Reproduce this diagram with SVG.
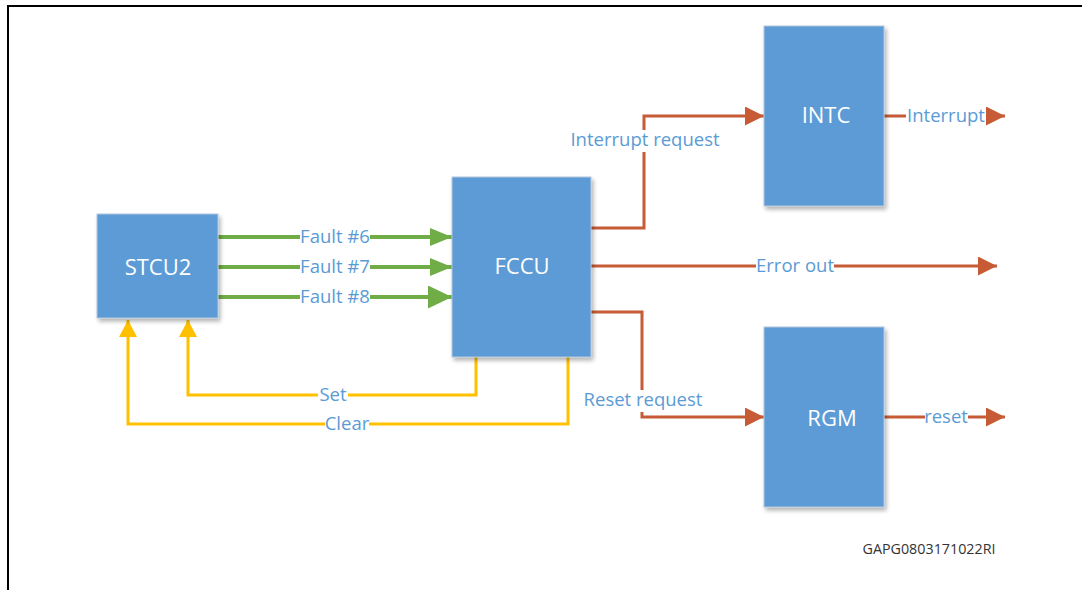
<svg xmlns="http://www.w3.org/2000/svg" width="1082" height="590" viewBox="0 0 1082 590">
  <defs>
    <filter id="shadow" x="-10%" y="-10%" width="130%" height="130%">
      <feGaussianBlur in="SourceAlpha" stdDeviation="2"/>
      <feOffset dx="2" dy="3" result="b"/>
      <feComponentTransfer><feFuncA type="linear" slope="0.3"/></feComponentTransfer>
      <feMerge><feMergeNode/><feMergeNode in="SourceGraphic"/></feMerge>
    </filter>
    <marker id="ah-green" markerUnits="userSpaceOnUse" markerWidth="22" markerHeight="18" refX="22" refY="9" orient="auto">
      <path d="M0,0 L22,9 L0,18 Z" fill="#70AD47"/>
    </marker>
    <marker id="ah-green-lg" markerUnits="userSpaceOnUse" markerWidth="24" markerHeight="23" refX="24" refY="11.5" orient="auto">
      <path d="M0,0 L24,11.5 L0,23 Z" fill="#70AD47"/>
    </marker>
    <marker id="ah-orange" markerUnits="userSpaceOnUse" markerWidth="19" markerHeight="19" refX="19" refY="9.5" orient="auto">
      <path d="M0,0 L19,9.5 L0,19 Z" fill="#C65B36"/>
    </marker>
    <marker id="ah-yellow" markerUnits="userSpaceOnUse" markerWidth="17" markerHeight="18" refX="17" refY="9" orient="auto">
      <path d="M0,0 L17,9 L0,18 Z" fill="#FFC000"/>
    </marker>
  </defs>
  <style>
    .box { fill: #5B9BD5; stroke: #B4C7DC; stroke-width: 1; filter: url(#shadow); }
    .name { font-family: "Open Sans", "Liberation Sans", sans-serif; font-size: 22px; fill: #FFFFFF; text-anchor: middle; }
    .lbl { font-family: "Open Sans", "Liberation Sans", sans-serif; font-size: 18.5px; fill: #5B9BD5; text-anchor: middle; }
    .gap { fill: #FFFFFF; }
    .green { fill: none; stroke: #70AD47; stroke-width: 4; }
    .orange { fill: none; stroke: #C65B36; stroke-width: 3; }
    .yellow { fill: none; stroke: #FFC000; stroke-width: 3; }
    .frame { fill: none; stroke: #000000; stroke-width: 2; }
    .ref { font-family: "Open Sans", "Liberation Sans", sans-serif; font-size: 14.3px; fill: #333333; text-anchor: middle; }
  </style>

  <rect width="1082" height="590" fill="#FFFFFF"/>
  <path class="frame" d="M8,592 L8,6 L1084,6"/>

  <!-- signal lines -->
  <g id="connectors">
    <path class="green" d="M217,237 L452,237" marker-end="url(#ah-green)"/>
    <path class="green" d="M217,267 L452,267" marker-end="url(#ah-green)"/>
    <path class="green" d="M217,297 L452,297" marker-end="url(#ah-green-lg)"/>
    <path class="yellow" d="M476,357 L476,395 L188,395 L188,320" marker-end="url(#ah-yellow)"/>
    <path class="yellow" d="M568,357 L568,424 L128,424 L128,320" marker-end="url(#ah-yellow)"/>
    <path class="orange" d="M591,228 L644,228 L644,116 L764,116" marker-end="url(#ah-orange)"/>
    <path class="orange" d="M591,266 L997,266" marker-end="url(#ah-orange)"/>
    <path class="orange" d="M591,312 L642,312 L642,417 L764,417" marker-end="url(#ah-orange)"/>
    <path class="orange" d="M884,116 L1005,116" marker-end="url(#ah-orange)"/>
    <path class="orange" d="M884,417 L1005,417" marker-end="url(#ah-orange)"/>

    <!-- labels -->
    <rect class="gap" x="300" y="228" width="70" height="18"/>
    <text class="lbl" x="335" y="243">Fault #6</text>
    <rect class="gap" x="300" y="258" width="70" height="18"/>
    <text class="lbl" x="335" y="273">Fault #7</text>
    <rect class="gap" x="300" y="288" width="70" height="18"/>
    <text class="lbl" x="335" y="303">Fault #8</text>
    <rect class="gap" x="318" y="386" width="30" height="18"/>
    <text class="lbl" x="333" y="401">Set</text>
    <rect class="gap" x="325" y="415" width="44" height="18"/>
    <text class="lbl" x="347" y="430">Clear</text>
    <rect class="gap" x="570" y="130" width="150" height="22"/>
    <text class="lbl" x="645" y="146">Interrupt request</text>
    <rect class="gap" x="756" y="257" width="78" height="18"/>
    <text class="lbl" x="795" y="272">Error out</text>
    <rect class="gap" x="583" y="390" width="120" height="22"/>
    <text class="lbl" x="643" y="406">Reset request</text>
    <rect class="gap" x="906" y="107" width="80" height="18"/>
    <text class="lbl" x="946" y="122">Interrupt</text>
    <rect class="gap" x="925" y="408" width="43" height="18"/>
    <text class="lbl" x="946" y="423">reset</text>
  </g>

  <g id="stcu2">
    <rect class="box" x="97" y="214" width="121" height="104"/>
    <text class="name" x="158" y="275">STCU2</text>
  </g>
  <g id="fccu">
    <rect class="box" x="452" y="177" width="139" height="180"/>
    <text class="name" x="522" y="274">FCCU</text>
  </g>
  <g id="intc">
    <rect class="box" x="764" y="26" width="120" height="180"/>
    <text class="name" x="826" y="123">INTC</text>
  </g>
  <g id="rgm">
    <rect class="box" x="764" y="327" width="120" height="180"/>
    <text class="name" x="832" y="426">RGM</text>
  </g>

  <text class="ref" x="929" y="554">GAPG0803171022RI</text>
</svg>
